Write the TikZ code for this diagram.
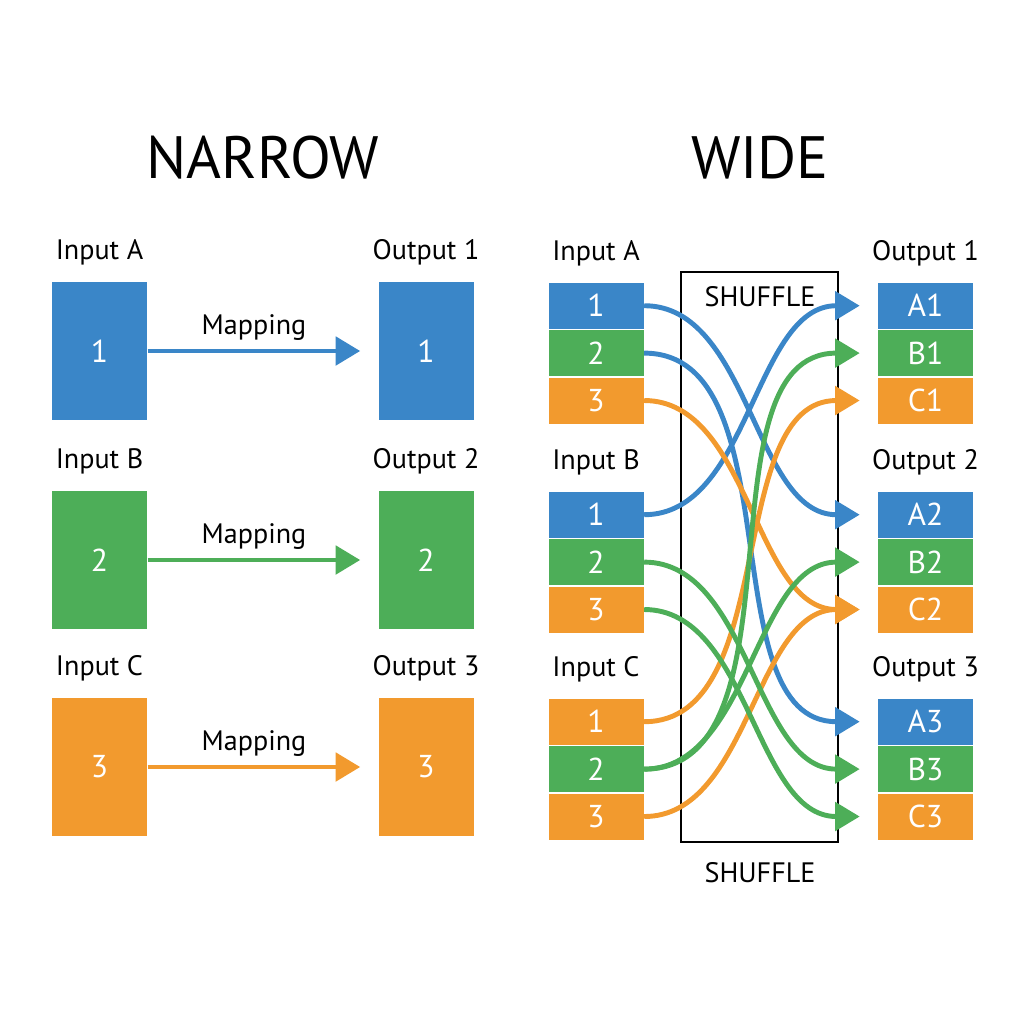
\documentclass[tikz,border=0pt]{standalone}
\usepackage{fontspec}
\setmainfont{PT Sans}
\usetikzlibrary{arrows.meta,positioning}
\definecolor{cblue}{HTML}{3A86C8}
\definecolor{cgreen}{HTML}{4DAE58}
\definecolor{corange}{HTML}{F29A2E}
\tikzset{
  blk/.style={minimum width=0.95cm, minimum height=1.38cm, inner sep=0, text=white, font=\fontsize{9}{10}\selectfont},
  cell/.style={minimum width=0.95cm, minimum height=0.46cm, inner sep=0, text=white, font=\fontsize{9}{10}\selectfont},
  lbl/.style={font=\fontsize{8}{10}\selectfont},
  flow/.style={line width=1.4pt, -{Triangle[length=7pt,width=8pt]}},
}
\begin{document}
\begin{tikzpicture}[x=1cm,y=-1cm]
      \useasboundingbox (0,0) rectangle (10.24,10.24);
      \node [font=\fontsize{17}{20}\selectfont] (tnar) at (2.63,1.58) {NARROW};
      \node [font=\fontsize{17}{20}\selectfont] (twid) at (7.60,1.58) {WIDE};

      % narrow side
      \foreach \y/\c/\k/\n/\m in {3.51/cblue/A/1/1, 5.60/cgreen/B/2/2, 7.67/corange/C/3/3} {
        \node [blk, fill=\c] (ni\k) at (0.995,\y) {\n};
        \node [blk, fill=\c] (no\k) at (4.26,\y) {\m};
        \node [lbl, above=1pt of ni\k] {Input \k};
        \node [lbl, above=1pt of no\k] {Output \m};
        \draw [flow, color=\c] (ni\k.east) -- node [lbl, above, text=black, yshift=-1pt] {Mapping} ([xshift=-5pt]no\k.west);
      }

      % wide side
      \draw [line width=0.8pt] (6.81,2.72) rectangle (8.38,8.42);
      \node [lbl] (shtop) at (7.60,2.97) {SHUFFLE};
      \node [lbl] (shbot) at (7.60,8.73) {SHUFFLE};
      \foreach \y/\k/\m/\ca in {2.82/A/1/cblue, 4.91/B/2/cblue, 6.98/C/3/corange} {
        \node [cell, fill=\ca, anchor=north] (wi\k1) at (5.96,\y) {1};
        \node [cell, fill=cgreen, below=0pt of wi\k1] (wi\k2) {2};
        \node [cell, fill=corange, below=0pt of wi\k2] (wi\k3) {3};
        \node [cell, fill=cblue, anchor=north] (wo\m1) at (9.255,\y) {A\m};
        \node [cell, fill=cgreen, below=0pt of wo\m1] (wo\m2) {B\m};
        \node [cell, fill=corange, below=0pt of wo\m2] (wo\m3) {C\m};
        \node [lbl, above=1pt of wi\k1] {Input \k};
        \node [lbl, above=1pt of wo\m1] {Output \m};
      }
      \foreach \s/\t/\c in {wiA1/wo21/cblue, wiA2/wo31/cblue, wiB1/wo11/cblue,
                            wiA3/wo23/corange, wiC1/wo13/corange, wiC3/wo23/corange,
                            wiB2/wo32/cgreen, wiB3/wo33/cgreen, wiC2/wo12/cgreen, wiC2/wo22/cgreen} {
        \draw [flow, color=\c] (\s.east) to [out=0, in=180, looseness=0.9] ([xshift=-5pt]\t.west);
      }
\end{tikzpicture}
\end{document}
